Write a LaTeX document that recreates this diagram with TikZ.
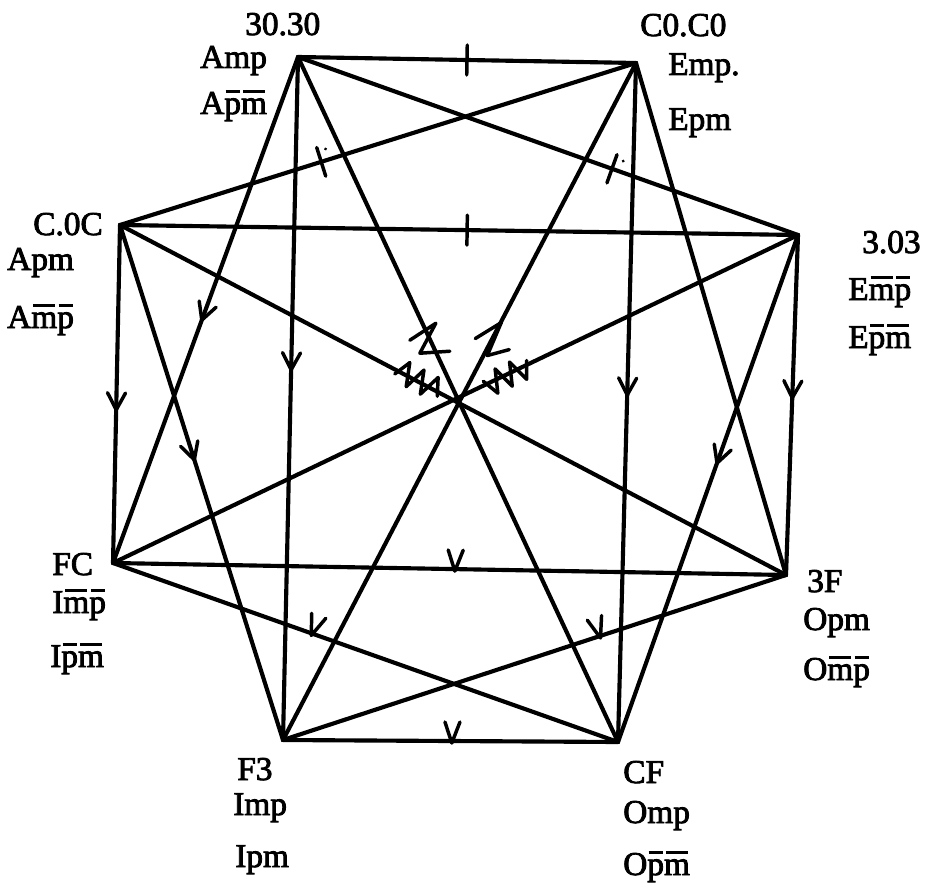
\documentclass[tikz,border=0pt]{standalone}
\usepackage{fontspec}
\setmainfont{Liberation Serif}
\newfontfamily\lblfont{Liberation Serif}[FakeBold=2.5]
\usetikzlibrary{decorations.markings,calc}
% letter with a bar over it
\newcommand\ob[1]{\leavevmode\setbox0\hbox{#1}\rlap{\hbox to \wd0{\hss\raisebox{0.62em}{\rule{0.85\wd0}{0.1em}}\hss}}#1}
\begin{document}
\begin{tikzpicture}[x=0.75pt,y=-0.75pt,
  edge/.style={line width=3.1pt, line cap=round, line join=round},
  mk/.style={line width=2.6pt, line cap=round, line join=round},
  lbl/.style={anchor=base west, inner sep=0pt, font=\lblfont\fontsize{25}{30}\selectfont},
  chevat/.style={postaction={decorate, decoration={markings,
      mark=at position #1 with {\draw[mk] (-17,-9) -- (0,0) -- (-17,9);}}}},
  vat/.style={postaction={decorate, decoration={markings,
      mark=at position #1 with {\draw[mk] (-7,-19) -- (0,2) -- (8,-19);}}}},
  tickat/.style={postaction={decorate, decoration={markings,
      mark=at position #1 with {\draw[mk] (0,-15) -- (0,15);}}}},
  dotat/.style={postaction={decorate, decoration={markings,
      mark=at position #1 with {\fill (8,-11) circle (1.6);}}}},
  wavat/.style={postaction={decorate, decoration={markings,
      mark=at position #1 with {\draw[mk] (-26,4) -- (-18,-13) -- (-10,10) -- (-2,-13) -- (6,10) -- (14,-13) -- (22,4);}}}}
]
\useasboundingbox (0,0) rectangle (928,895);

% the eight corners
\coordinate (A) at (298,57);
\coordinate (B) at (636,63);
\coordinate (C) at (120,225);
\coordinate (D) at (798,235);
\coordinate (E) at (113,563);
\coordinate (F) at (786,575);
\coordinate (G) at (283,740);
\coordinate (H) at (618,742);

% upper edges with bars
\draw[edge, tickat=0.5] (A) -- (B);
\draw[edge, tickat=0.512] (C) -- (D);
\draw[edge, tickat=0.39, dotat=0.39] (C) -- (B);
\draw[edge, tickat=0.628, dotat=0.628] (A) -- (D);

% edges through the centre
\draw[edge] (A) -- (H);
\draw[edge] (B) -- (G);
\draw[edge, wavat=0.45] (C) -- (F);
\draw[edge, wavat=0.428] (D) -- (E);

% downward arrows
\draw[edge, chevat=0.52] (A) -- (E);
\draw[edge, chevat=0.458] (A) -- (G);
\draw[edge, chevat=0.547] (C) -- (E);
\draw[edge, chevat=0.456] (C) -- (G);
\draw[edge, chevat=0.489] (B) -- (H);
\draw[edge] (B) -- (F);
\draw[edge, chevat=0.479] (D) -- (F);
\draw[edge, chevat=0.45] (D) -- (H);
\draw[edge, vat=0.508] (E) -- (F);
\draw[edge, vat=0.394] (E) -- (H);
\draw[edge, vat=0.63] (G) -- (F);
\draw[edge, vat=0.504] (G) -- (H);

% zig-zag bars on the two steep centre lines
\coordinate (zl) at ($(A)!0.412!(H)$);
\coordinate (zr) at ($(B)!0.41!(G)$);
\draw[mk] ($(zl)+(-20,1)$) -- ($(zl)+(6,-16)$) -- ($(zl)+(-10,14)$) -- ($(zl)+(20,12)$);
\draw[mk] ($(zr)+(-16,-2)$) -- ($(zr)+(10,-18)$) -- ($(zr)+(-4,15)$) -- ($(zr)+(18,9)$);

% labels
\node[lbl] (a1) at (245,35) {30.30};
\node[lbl] (a2) at (200,68) {Amp};
\node[lbl] (a3) at (200,114) {A\ob{p}\ob{m}};

\node[lbl] (b1) at (640,36) {C0.C0};
\node[lbl] (b2) at (668,75) {Emp.};
\node[lbl] (b3) at (668,130) {Epm};

\node[lbl] (c1) at (33,235) {C.0C};
\node[lbl] (c2) at (7,270) {Apm};
\node[lbl] (c3) at (7,328) {A\ob{m}\ob{p}};

\node[lbl] (d1) at (862,253) {3.03};
\node[lbl] (d2) at (848,300) {E\ob{m}\ob{p}};
\node[lbl] (d3) at (848,348) {E\ob{p}\ob{m}};

\node[lbl] (e1) at (52,575) {FC};
\node[lbl] (e2) at (52,613) {I\ob{m}\ob{p}};
\node[lbl] (e3) at (50,667) {I\ob{p}\ob{m}};

\node[lbl] (f1) at (807,592) {3F};
\node[lbl] (f2) at (803,630) {Opm};
\node[lbl] (f3) at (803,680) {O\ob{m}\ob{p}};

\node[lbl] (g1) at (237,780) {F3};
\node[lbl] (g2) at (233,815) {Imp};
\node[lbl] (g3) at (235,867) {Ipm};

\node[lbl] (h1) at (623,783) {CF};
\node[lbl] (h2) at (623,823) {Omp};
\node[lbl] (h3) at (623,875) {O\ob{p}\ob{m}};
\end{tikzpicture}
\end{document}
